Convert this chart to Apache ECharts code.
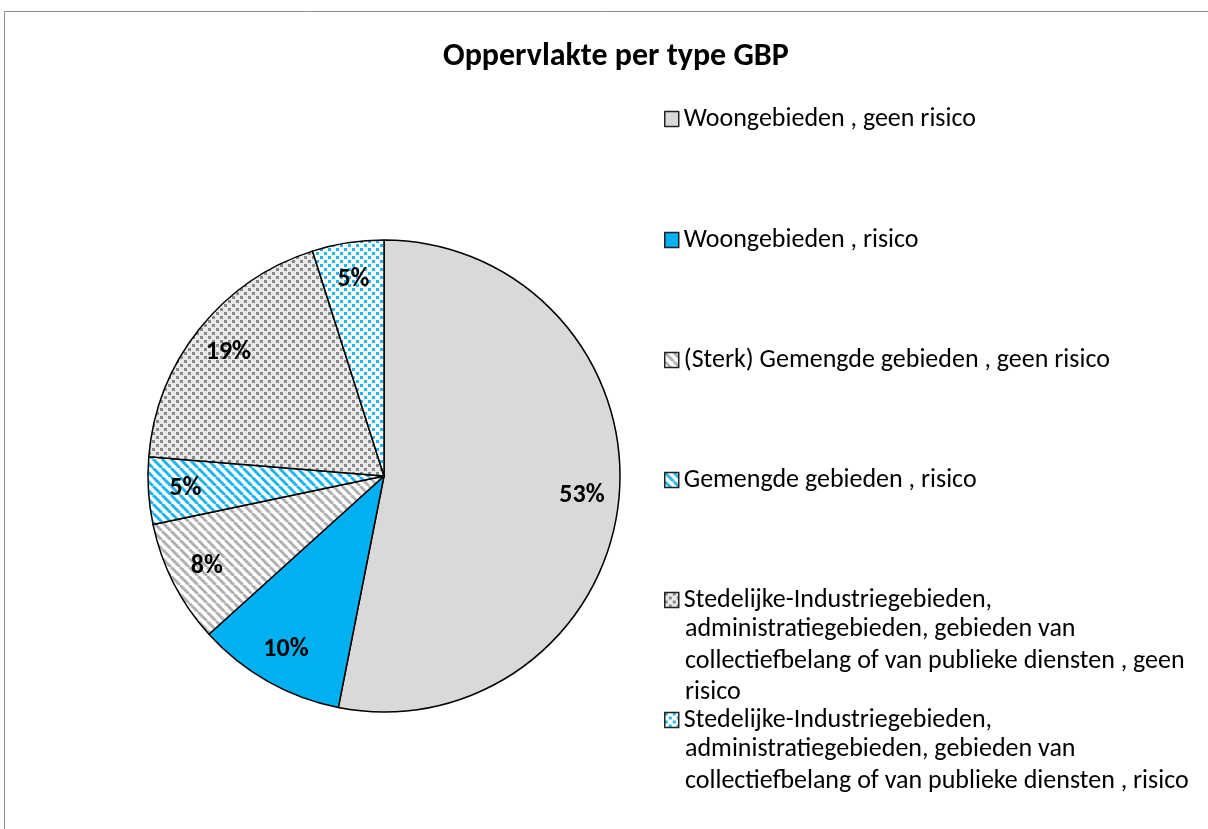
<!DOCTYPE html>
<html lang="nl">
<head>
<meta charset="UTF-8">
<title>Oppervlakte per type GBP</title>
<script src="https://cdn.jsdelivr.net/npm/echarts@6/dist/echarts.min.js"></script>
<style>
  html, body { margin: 0; padding: 0; background: #fff; }
  #chart { width: 1208px; height: 829px; }
</style>
</head>
<body>
<div id="chart"></div>
<script>
// categories (legend order, clockwise from 12 o'clock)
const categories = [
  'Woongebieden , geen risico',
  'Woongebieden , risico',
  '(Sterk) Gemengde gebieden , geen risico',
  'Gemengde gebieden , risico',
  'Stedelijke-Industriegebieden, administratiegebieden, gebieden van collectiefbelang of van publieke diensten , geen risico',
  'Stedelijke-Industriegebieden, administratiegebieden, gebieden van collectiefbelang of van publieke diensten , risico'
];
// legend text as it wraps in the picture
const legendLines = [
  ['Woongebieden , geen risico'],
  ['Woongebieden , risico'],
  ['(Sterk) Gemengde gebieden , geen risico'],
  ['Gemengde gebieden , risico'],
  ['Stedelijke-Industriegebieden,', 'administratiegebieden, gebieden van', 'collectiefbelang of van publieke diensten , geen', 'risico'],
  ['Stedelijke-Industriegebieden,', 'administratiegebieden, gebieden van', 'collectiefbelang of van publieke diensten , risico']
];
// share of area (percent)
const shares = [53.1, 10.2, 8.4, 4.6, 18.8, 4.9];

const FONT = 'Carlito, Calibri, "Noto Sans", sans-serif';
const LEGEND_SIZE = 26;

function tile(size, draw) {
  const c = document.createElement('canvas');
  c.width = size; c.height = size;
  draw(c.getContext('2d'));
  return { image: c, repeat: 'repeat' };
}
function stripes(fg) {
  const s = 9;
  return tile(s, g => {
    g.fillStyle = '#fff';
    g.fillRect(0, 0, s, s);
    g.strokeStyle = fg;
    g.lineWidth = 3;
    [-s, 0, s].forEach(k => {
      g.beginPath(); g.moveTo(k, 0); g.lineTo(k + s, s); g.stroke();
    });
  });
}
function dots(bg, fg) {
  return tile(8, g => {
    g.fillStyle = bg;
    g.fillRect(0, 0, 8, 8);
    g.fillStyle = fg;
    g.fillRect(0, 0, 3, 3);
    g.fillRect(4, 4, 3, 3);
  });
}

const fills = [
  '#d9d9d9',
  '#00b0f0',
  stripes('#b0b0b0'),
  stripes('#1eb4ee'),
  dots('#e9e9e9', '#8a8a8a'),
  dots('#ffffff', '#22b6f0')
];

const chart = echarts.init(document.getElementById('chart'));

const center = [384, 476];
const R = 236;

const firstLineY = [116, 237, 357, 477, 597, 717];
const LH = 31.5;

const legends = categories.map((name, i) => ({
  data: [name],
  left: 664,
  top: firstLineY[i] - 10,
  padding: 0,
  icon: 'rect',
  itemWidth: 14,
  itemHeight: 15,
  selectedMode: false,
  itemStyle: { borderColor: '#222', borderWidth: 1.5 },
  formatter: () => legendLines[i][0],
  textStyle: { fontFamily: FONT, fontSize: LEGEND_SIZE, color: '#000' }
}));

// continuation lines of the wrapped legend entries
const legendRest = [];
legendLines.forEach((lines, i) => {
  lines.slice(1).forEach((t, j) => {
    legendRest.push({
      type: 'text',
      left: 685,
      top: firstLineY[i] + (j + 1) * LH - 12,
      silent: true,
      style: { text: t, fontFamily: FONT, fontSize: LEGEND_SIZE, fill: '#000' }
    });
  });
});

chart.setOption({
  animation: false,
  title: {
    text: 'Oppervlakte per type GBP',
    left: 438,
    top: 36,
    textStyle: { fontFamily: FONT, fontSize: 32, fontWeight: 'bold', color: '#000' }
  },
  graphic: [{
    type: 'rect',
    shape: { x: 4.5, y: 11.5, width: 1300, height: 900 },
    style: { fill: 'none', stroke: '#8c8c8c', lineWidth: 1 },
    silent: true
  }].concat(legendRest),
  legend: legends,
  series: [
    {
      type: 'pie',
      center: center,
      radius: [0, R],
      startAngle: 90,
      clockwise: true,
      label: { show: false },
      labelLine: { show: false },
      emphasis: { disabled: true },
      itemStyle: { borderColor: '#000', borderWidth: 1.5 },
      data: categories.map((name, i) => ({
        name: name, value: shares[i], itemStyle: { color: fills[i] }
      }))
    },
    {
      // transparent ring that carries the percentage labels near the rim
      type: 'pie',
      center: center,
      radius: [R * 0.66, R],
      startAngle: 90,
      clockwise: true,
      silent: true,
      emphasis: { disabled: true },
      itemStyle: { color: 'rgba(0,0,0,0)', borderWidth: 0 },
      label: {
        show: true,
        position: 'inside',
        fontFamily: FONT,
        fontSize: 26,
        fontWeight: 'bold',
        color: '#000',
        formatter: p => Math.round(p.percent) + '%'
      },
      labelLine: { show: false },
      data: categories.map((name, i) => ({ name: name, value: shares[i] }))
    }
  ]
});
</script>
</body>
</html>
